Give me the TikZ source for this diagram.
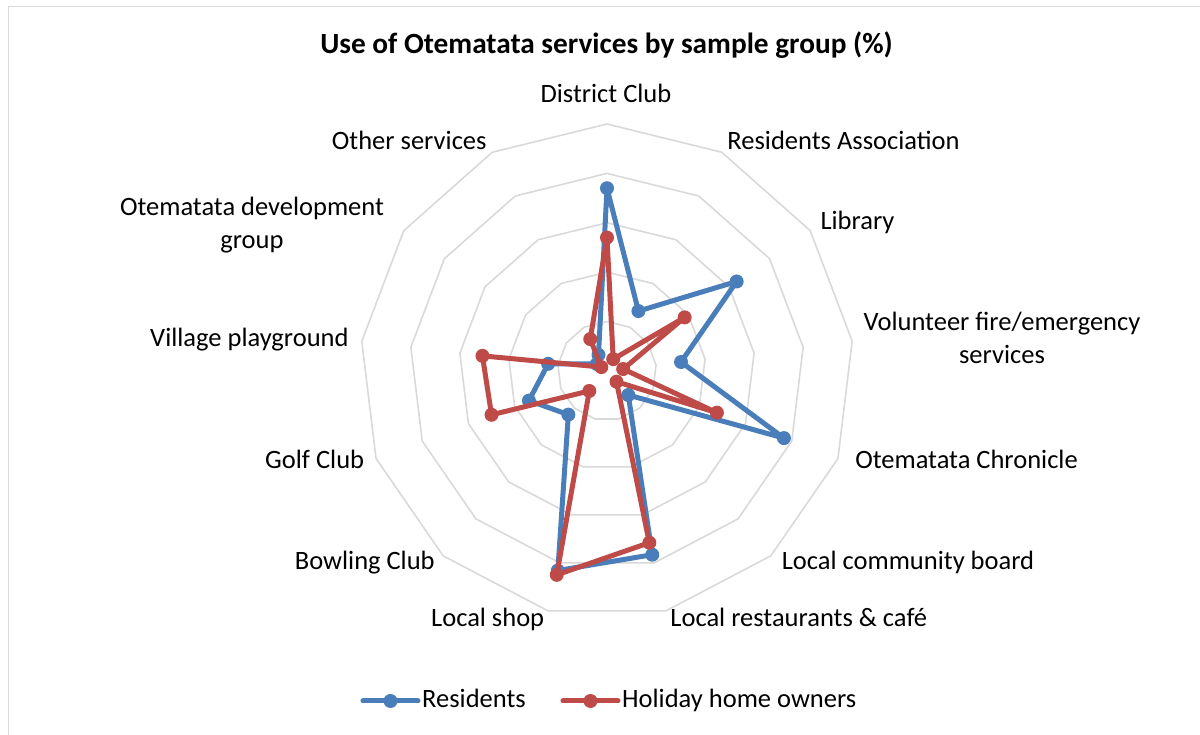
\documentclass[tikz,border=0pt]{standalone}
\usepackage{fontspec}
\setmainfont{Carlito}
\usetikzlibrary{positioning}
\definecolor{resblue}{HTML}{4A7EBB}
\definecolor{holred}{HTML}{BE4B48}
\definecolor{webgray}{HTML}{D9D9D9}
\tikzset{
web/.style = {draw=webgray, line width=1.6pt},
frame/.style = {draw=webgray, line width=1.5pt},
series/.style = {line width=5pt, line join=round},
resline/.style = {series, draw=resblue},
holline/.style = {series, draw=holred},
resdot/.style = {circle, fill=resblue, inner sep=0pt, minimum size=14pt},
holdot/.style = {circle, fill=holred, inner sep=0pt, minimum size=14pt},
axislbl/.style = {inner sep=0pt, anchor=base, align=center,
  font=\fontsize{26.5}{32.3}\selectfont},
charttitle/.style = {inner sep=0pt, anchor=base,
  font=\fontsize{29.3}{35}\selectfont\bfseries}
}
\newcommand{\ringgap}{49.4}

\begin{document}
\begin{tikzpicture}[x=1pt, y=1pt]
    % canvas and chart frame
    \useasboundingbox (-607,-364) rectangle (593,371);
    \draw[frame] (-598.5,-370) -- (-598.5,364.5) -- (600,364.5);

    % the web: five rings of 13 sides
    \foreach \k in {1,...,5}
        \draw[web] (90:\k*\ringgap) \foreach \i in {1,...,12} { -- ({90-\i*360/13}:\k*\ringgap) } -- cycle;

    % data points, one per service
    \foreach \v [count=\i from 0] in {3.70,1.37,3.19,1.51,3.83,0.65,3.83,4.16,1.18,1.69,1.20,0.25,0.37}
        \coordinate (r\i) at ({90-\i*360/13}:\v*\ringgap);
    \foreach \v [count=\i from 0] in {2.70,0.27,1.91,0.33,2.38,0.29,3.58,4.25,0.54,2.50,2.54,0.14,0.73}
        \coordinate (h\i) at ({90-\i*360/13}:\v*\ringgap);

    % Residents
    \draw[resline] (r0) \foreach \i in {1,...,12} { -- (r\i) } -- cycle;
    \foreach \i in {0,...,12}
        \node[resdot] (rdot\i) at (r\i) {};

    % Holiday home owners
    \draw[holline] (h0) \foreach \i in {1,...,12} { -- (h\i) } -- cycle;
    \foreach \i in {0,...,12}
        \node[holdot] (hdot\i) at (h\i) {};

    % title and axis labels
    \node[charttitle] (title) at (-0.5,317) {Use of Otematata services by sample group (\%)};
    \node[axislbl] (district) at (-1,268.5) {District Club};
    \node[axislbl] (assoc) at (236.5,221) {Residents Association};
    \node[axislbl] (library) at (250.5,141) {Library};
    \node[axislbl] (fire) at (395,7.7) {Volunteer fire/emergency\\services};
    \node[axislbl] (chronicle) at (359.5,-97.5) {Otematata Chronicle};
    \node[axislbl] (board) at (301,-199) {Local community board};
    \node[axislbl] (cafe) at (191.8,-256) {Local restaurants \& café};
    \node[axislbl] (shop) at (-119.3,-256) {Local shop};
    \node[axislbl] (bowling) at (-242.2,-199) {Bowling Club};
    \node[axislbl] (golf) at (-292.3,-97.5) {Golf Club};
    \node[axislbl] (playground) at (-357.6,24.8) {Village playground};
    \node[axislbl] (devgroup) at (-355,122.7) {Otematata development\\group};
    \node[axislbl] (other) at (-197.8,221) {Other services};

    % legend
    \coordinate (resA) at (-244,-330);
    \coordinate (resB) at (-189,-330);
    \coordinate (holA) at (-44,-330);
    \coordinate (holB) at (11,-330);
    \draw[resline, line cap=round] (resA) -- node[resdot] (resmark) {} (resB);
    \draw[holline, line cap=round] (holA) -- node[holdot] (holmark) {} (holB);
    \node[axislbl, anchor=base west] (restext) at (-185,-337) {Residents};
    \node[axislbl, anchor=base west] (holtext) at (15,-337) {Holiday home owners};
\end{tikzpicture}
\end{document}
